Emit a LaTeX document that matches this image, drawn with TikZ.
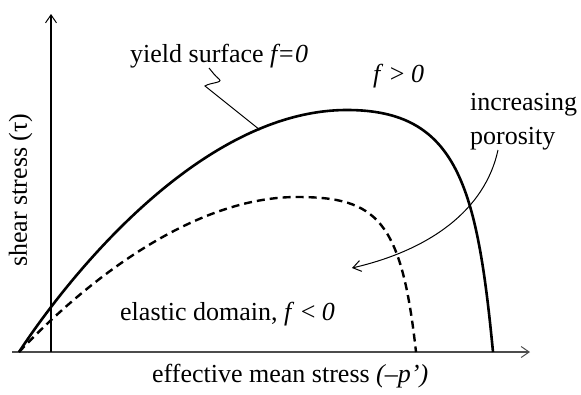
\documentclass[tikz,border=0pt]{standalone}
\usepackage{fontspec}
\setmainfont{Liberation Serif}
\usetikzlibrary{arrows.meta}
\begin{document}
\begin{tikzpicture}[x=1pt,y=-1pt,
  lbl/.style={font=\fontsize{26}{30}\selectfont, inner sep=0pt, anchor=base west},
  axisline/.style={line width=1.1pt},
  curveline/.style={line width=2.6pt},
  leader/.style={line width=1pt},
  barb/.style={-{Straight Barb[length=8pt,width=11pt,line width=1pt]}}]
\useasboundingbox (0,0) rectangle (581,394);
% axes
\coordinate (origin) at (51,352);
\coordinate (xs) at (12,352);
\coordinate (xe) at (530,352);
\coordinate (ye) at (51,14);
\draw[axisline, black!70, barb] (xs) -- (xe);
\draw[axisline, barb] (origin) -- (ye);
% yield surface
\coordinate (s0) at (19,352);
\coordinate (s1) at (347,110);
\coordinate (s2) at (493,352);
\draw[curveline] (s0) .. controls (77,264) and (207,110) .. (s1)
  .. controls (457,110) and (477,185.6) .. (s2);
% increasing porosity surface
\coordinate (d1) at (297,197);
\coordinate (d2) at (416,352);
\draw[curveline, line width=2.4pt, dash pattern=on 8pt off 5pt] (s0) .. controls (76.6,290.8) and (187,197) .. (d1)
  .. controls (377,197) and (401.6,220) .. (d2);
% labels
\node[lbl] (yl) at (130,62) {yield surface \textit{f=0}};
\node[lbl] (fg) at (373,82) {\textit{f} > \textit{0}};
\node[lbl] (inc) at (470,110) {increasing};
\node[lbl] (por) at (470,144) {porosity};
\node[lbl] (el) at (120,320) {elastic domain, \textit{f} < \textit{0}};
\node[lbl] (xl) at (152,382) {effective mean stress \textit{(–p’)}};
\node[lbl, rotate=90] (yl2) at (27,267) {shear stress (τ)};
% leader to yield surface
\coordinate (ys) at (260,130);
\coordinate (yk) at (205,86);
\draw[leader] (ys) -- (yk) to[out=35,in=-40] (219,79) to[out=140,in=-50] (209,68);
% porosity arrow
\coordinate (ps) at (498,150);
\coordinate (pe) at (352,268);
\draw[leader, barb] (ps) .. controls (485,210) and (430,250) .. (pe);
\end{tikzpicture}
\end{document}
